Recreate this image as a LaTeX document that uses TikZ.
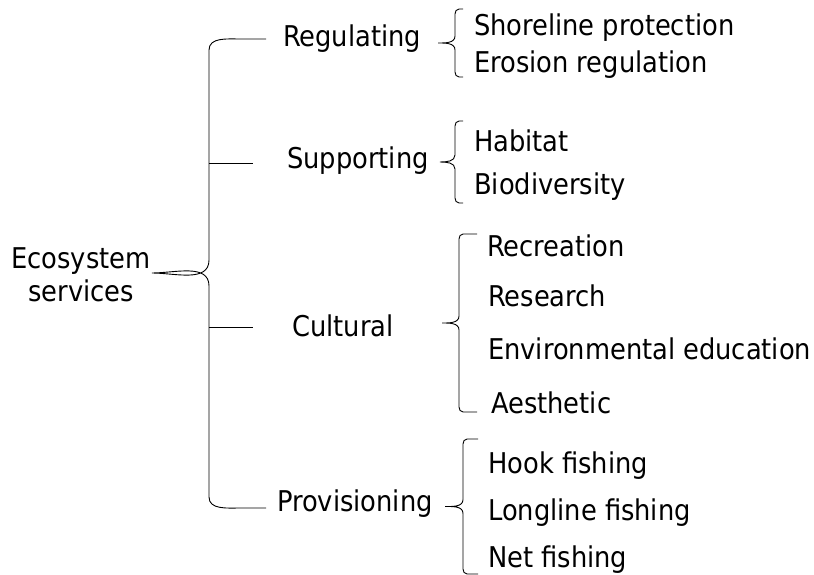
\documentclass[tikz,border=0pt]{standalone}
\usepackage{fontspec}
\setmainfont{DejaVu Sans Condensed}
\begin{document}
\begin{tikzpicture}[x=1pt,y=1pt,
  lbl/.style={anchor=base west,inner sep=0pt,font=\fontsize{28.6}{33}\selectfont},
  clbl/.style={anchor=base,inner sep=0pt,font=\fontsize{28.6}{33}\selectfont},
  ln/.style={draw=black,line width=0.9pt}]
\useasboundingbox (0,0) rectangle (814,-575);
% root
\node[clbl] (eco) at (81,-268) {Ecosystem};
\node[clbl] (serv) at (81,-301) {services};
% level 1
\node[lbl] (reg) at (283,-47) {Regulating};
\node[lbl] (sup) at (287,-168) {Supporting};
\node[lbl] (cul) at (292,-336) {Cultural};
\node[lbl] (pro) at (277,-511) {Provisioning};
% level 2
\node[lbl] (shore) at (474,-36) {Shoreline protection};
\node[lbl] (eros) at (474,-73) {Erosion regulation};
\node[lbl] (hab) at (474,-152) {Habitat};
\node[lbl] (bio) at (474,-194) {Biodiversity};
\node[lbl] (rec) at (487,-256) {Recreation};
\node[lbl] (res) at (488,-306) {Research};
\node[lbl] (env) at (488,-359) {Environmental education};
\node[lbl] (aes) at (491,-413) {Aesthetic};
\node[lbl] (hook) at (488,-473) {Hook fishing};
\node[lbl] (long) at (488,-520) {Longline fishing};
\node[lbl] (net) at (488,-567) {Net fishing};
% main brace
\coordinate (mtop) at (266,-39);
\coordinate (mbot) at (266,-508);
\coordinate (mtip) at (152,-273);
\coordinate (t1a) at (209,-163);
\coordinate (t1b) at (253,-163);
\coordinate (t2a) at (209,-327);
\coordinate (t2b) at (253,-327);
\draw[ln] (mtop) -- (240,-39) to[out=180,in=90] (209,-50) -- (209,-260)
  to[out=-90,in=0] (mtip) to[out=0,in=90] (209,-286) -- (209,-497)
  to[out=-90,in=180] (240,-508) -- (mbot);
\draw[ln] (t1a) -- (t1b);
\draw[ln] (t2a) -- (t2b);
% small braces: #1 end x, #2 vertical x, #3 tip x, #4 top y, #5 bottom y
\newcommand{\sbrace}[5]{%
  \pgfmathsetmacro{\ym}{(#4+#5)/2}%
  \draw[ln] (#1,-#4) -- ({#2+4},-#4) to[out=180,in=90] (#2,{-#4-5}) -- (#2,{-\ym+7})
    to[out=-90,in=0] (#3,-\ym) to[out=0,in=90] (#2,{-\ym-7}) -- (#2,{-#5+5})
    to[out=-90,in=180] ({#2+4},-#5) -- (#1,-#5);}
\sbrace{463}{455}{438}{9}{77}
\sbrace{463}{455}{440}{121}{203}
\sbrace{477}{459}{442}{234}{412}
\sbrace{478}{463}{445}{439}{574}
\end{tikzpicture}
\end{document}
